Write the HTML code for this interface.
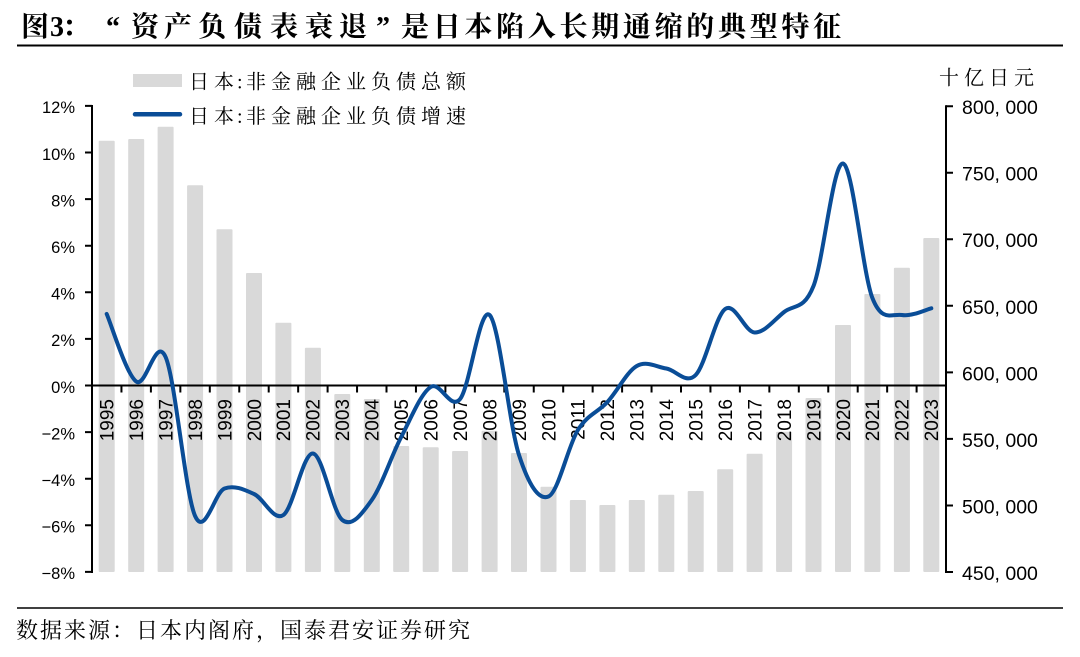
<!DOCTYPE html>
<html>
<head>
<meta charset="utf-8">
<style>
  html,body{margin:0;padding:0;background:#fff;}
  svg{display:block;}
  .cjk{font-family:"Liberation Serif","Noto Serif CJK SC",serif;}
  .num{font-family:"Liberation Sans",Arial,sans-serif;fill:#000;}
</style>
</head>
<body>
<svg width="1080" height="657" viewBox="0 0 1080 657" xmlns="http://www.w3.org/2000/svg">
  <rect x="0" y="0" width="1080" height="657" fill="#fff"/>

  <!-- Title -->
  <text class="cjk" y="36" font-size="28" font-weight="bold" fill="#000"
        x="21 50 62 106 131 164 198 234 270 305 339 376 401 432.7 464.4 496.1 527.8 559.5 591.2 622.9 654.6 686.3 718 749.7 781.4 813.1">图3：“资产负债表衰退”是日本陷入长期通缩的典型特征</text>
  <line x1="17" y1="45.5" x2="1063" y2="45.5" stroke="#000" stroke-width="2"/>

  <!-- Bars -->
  <g fill="#d9d9d9">
    <rect x="98.7" y="140.7" width="16" height="431.3" rx="1"/>
    <rect x="128.2" y="139" width="16" height="433" rx="1"/>
    <rect x="157.6" y="126.7" width="16" height="445.3" rx="1"/>
    <rect x="187.1" y="185.3" width="16" height="386.7" rx="1"/>
    <rect x="216.5" y="229.3" width="16" height="342.7" rx="1"/>
    <rect x="246.0" y="273" width="16" height="299" rx="1"/>
    <rect x="275.4" y="322.7" width="16" height="249.3" rx="1"/>
    <rect x="304.9" y="347.7" width="16" height="224.3" rx="1"/>
    <rect x="334.3" y="394" width="16" height="178" rx="1"/>
    <rect x="363.8" y="399" width="16" height="173" rx="1"/>
    <rect x="393.2" y="446" width="16" height="126" rx="1"/>
    <rect x="422.7" y="447.3" width="16" height="124.7" rx="1"/>
    <rect x="452.1" y="451" width="16" height="121" rx="1"/>
    <rect x="481.6" y="430.7" width="16" height="141.3" rx="1"/>
    <rect x="511.0" y="453" width="16" height="119" rx="1"/>
    <rect x="540.5" y="486.7" width="16" height="85.3" rx="1"/>
    <rect x="569.9" y="500" width="16" height="72" rx="1"/>
    <rect x="599.4" y="505" width="16" height="67" rx="1"/>
    <rect x="628.8" y="500" width="16" height="72" rx="1"/>
    <rect x="658.3" y="494.7" width="16" height="77.3" rx="1"/>
    <rect x="687.7" y="491" width="16" height="81" rx="1"/>
    <rect x="717.2" y="469.3" width="16" height="102.7" rx="1"/>
    <rect x="746.6" y="453.7" width="16" height="118.3" rx="1"/>
    <rect x="776.1" y="431.7" width="16" height="140.3" rx="1"/>
    <rect x="805.5" y="398" width="16" height="174" rx="1"/>
    <rect x="835.0" y="325" width="16" height="247" rx="1"/>
    <rect x="864.4" y="294" width="16" height="278" rx="1"/>
    <rect x="893.9" y="267.7" width="16" height="304.3" rx="1"/>
    <rect x="923.3" y="238" width="16" height="334" rx="1"/>
  </g>

  <!-- X category labels (rotated) -->
  <g class="num" font-size="19" text-anchor="end">
    <text transform="translate(113.5,399) rotate(-90)">1995</text>
    <text transform="translate(143.0,399) rotate(-90)">1996</text>
    <text transform="translate(172.4,399) rotate(-90)">1997</text>
    <text transform="translate(201.9,399) rotate(-90)">1998</text>
    <text transform="translate(231.3,399) rotate(-90)">1999</text>
    <text transform="translate(260.8,399) rotate(-90)">2000</text>
    <text transform="translate(290.2,399) rotate(-90)">2001</text>
    <text transform="translate(319.7,399) rotate(-90)">2002</text>
    <text transform="translate(349.1,399) rotate(-90)">2003</text>
    <text transform="translate(378.6,399) rotate(-90)">2004</text>
    <text transform="translate(408.0,399) rotate(-90)">2005</text>
    <text transform="translate(437.5,399) rotate(-90)">2006</text>
    <text transform="translate(466.9,399) rotate(-90)">2007</text>
    <text transform="translate(496.4,399) rotate(-90)">2008</text>
    <text transform="translate(525.8,399) rotate(-90)">2009</text>
    <text transform="translate(555.3,399) rotate(-90)">2010</text>
    <text transform="translate(584.7,399) rotate(-90)">2011</text>
    <text transform="translate(614.2,399) rotate(-90)">2012</text>
    <text transform="translate(643.6,399) rotate(-90)">2013</text>
    <text transform="translate(673.1,399) rotate(-90)">2014</text>
    <text transform="translate(702.5,399) rotate(-90)">2015</text>
    <text transform="translate(732.0,399) rotate(-90)">2016</text>
    <text transform="translate(761.4,399) rotate(-90)">2017</text>
    <text transform="translate(790.9,399) rotate(-90)">2018</text>
    <text transform="translate(820.3,399) rotate(-90)">2019</text>
    <text transform="translate(849.8,399) rotate(-90)">2020</text>
    <text transform="translate(879.2,399) rotate(-90)">2021</text>
    <text transform="translate(908.7,399) rotate(-90)">2022</text>
    <text transform="translate(938.1,399) rotate(-90)">2023</text>
  </g>

  <!-- Axes -->
  <g stroke="#000" stroke-width="2" fill="none">
    <line x1="92" y1="105" x2="92" y2="573"/>
    <line x1="946" y1="105.2" x2="946" y2="573"/>
    <line x1="91" y1="385.5" x2="947" y2="385.5"/>
    <path d="M85 105.9H92M85 152.5H92M85 199.1H92M85 245.7H92M85 292.3H92M85 338.9H92M85 385.5H92M85 432.1H92M85 478.7H92M85 525.3H92M85 571.9H92"/>
    <path d="M946 106.2H953M946 172.7H953M946 239.2H953M946 305.8H953M946 372.4H953M946 438.9H953M946 505.5H953M946 572H953"/>
    <path d="M121.45 385.5v7M150.9 385.5v7M180.35 385.5v7M209.8 385.5v7M239.25 385.5v7M268.7 385.5v7M298.15 385.5v7M327.6 385.5v7M357.05 385.5v7M386.5 385.5v7M415.95 385.5v7M445.4 385.5v7M474.85 385.5v7M504.3 385.5v7M533.75 385.5v7M563.2 385.5v7M592.65 385.5v7M622.1 385.5v7M651.55 385.5v7M681 385.5v7M710.45 385.5v7M739.9 385.5v7M769.35 385.5v7M798.8 385.5v7M828.25 385.5v7M857.7 385.5v7M887.15 385.5v7M916.6 385.5v7"/>
  </g>

  <!-- Left axis labels -->
  <g class="num" font-size="16.5" text-anchor="end">
    <text x="75" y="113.2">12%</text>
    <text x="75" y="159.8">10%</text>
    <text x="75" y="206.4">8%</text>
    <text x="75" y="253.0">6%</text>
    <text x="75" y="299.6">4%</text>
    <text x="75" y="346.2">2%</text>
    <text x="75" y="392.8">0%</text>
    <text x="75" y="439.4">−2%</text>
    <text x="75" y="486.0">−4%</text>
    <text x="75" y="532.6">−6%</text>
    <text x="75" y="579.2">−8%</text>
  </g>

  <!-- Right axis labels -->
  <g class="num" font-size="19.5">
    <text x="962" y="114.2">800, 000</text>
    <text x="962" y="180.7">750, 000</text>
    <text x="962" y="247.2">700, 000</text>
    <text x="962" y="313.8">650, 000</text>
    <text x="962" y="380.4">600, 000</text>
    <text x="962" y="446.9">550, 000</text>
    <text x="962" y="513.5">500, 000</text>
    <text x="962" y="580">450, 000</text>
  </g>
  <text class="cjk" y="84.5" font-size="20" fill="#000" x="939 964 989 1014">十亿日元</text>

  <!-- Growth line -->
  <path fill="none" stroke="#0a4d97" stroke-width="4" stroke-linejoin="round" stroke-linecap="round"
    d="M106.7 314
       C111.6 325.25 126.4 374.33 136.2 381.5
       C146.0 388.67 155.8 334.58 165.6 357
       C175.4 379.42 185.3 494.08 195.1 516
       C204.9 537.92 214.7 492.17 224.5 488.5
       C234.3 484.83 244.2 489.58 254.0 494
       C263.8 498.42 273.6 521.75 283.4 515
       C293.2 508.25 303.1 452.67 312.9 453.5
       C322.7 454.33 332.5 512.25 342.3 520
       C352.1 527.75 362.0 513.83 371.8 500
       C381.6 486.17 391.4 455.83 401.2 437
       C411.0 418.17 420.9 393.33 430.7 387
       C440.5 380.67 450.3 411 460.1 399
       C469.9 387 479.8 305.67 489.6 315
       C499.4 324.33 509.2 424.75 519.0 455
       C528.8 485.25 538.7 500.67 548.5 496.5
       C558.3 492.33 568.1 445.75 577.9 430
       C587.7 414.25 597.6 412.67 607.4 402
       C617.2 391.33 627.0 371.58 636.8 366
       C646.6 360.42 656.5 367 666.3 368.5
       C676.1 370 685.9 384.92 695.7 375
       C705.5 365.08 715.4 316.08 725.2 309
       C735.0 301.92 744.8 332 754.6 332.5
       C764.4 333 774.3 319.75 784.1 312
       C793.9 304.25 803.7 310.75 813.5 286
       C823.3 261.25 833.2 161.5 843.0 163.5
       C852.8 165.5 862.6 272.75 872.4 298
       C882.2 323.25 892.1 313.28 901.9 315
       C911.7 316.72 926.4 309.42 931.3 308.3"/>

  <!-- Legend -->
  <rect x="133" y="74" width="49" height="13" fill="#d9d9d9"/>
  <text class="cjk" y="88.5" font-size="20" fill="#000"
        x="189 214 237 246 271 296 321 346 371 396 421 446">日本:非金融企业负债总额</text>
  <line x1="135" y1="114.3" x2="180" y2="114.3" stroke="#0a4d97" stroke-width="4.5" stroke-linecap="round"/>
  <text class="cjk" y="123" font-size="20" fill="#000"
        x="189 214 237 246 271 296 321 346 371 396 421 446">日本:非金融企业负债增速</text>

  <!-- Footer -->
  <line x1="17" y1="608" x2="1063" y2="608" stroke="#000" stroke-width="1.6"/>
  <text class="cjk" y="638" font-size="22" fill="#000"
        x="16 40 64 88 112 136 160 184 208 232 256 280 304 328 352 376 400 424 448">数据来源：日本内阁府，国泰君安证券研究</text>
</svg>
</body>
</html>
